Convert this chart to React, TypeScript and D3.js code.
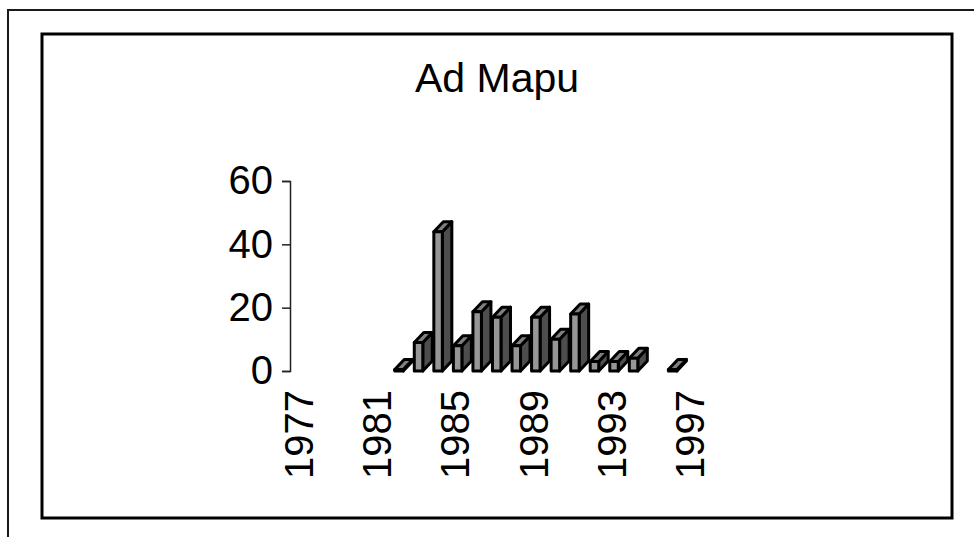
import { useEffect, useRef } from 'react';
import * as d3 from 'd3';

const TITLE = 'Ad Mapu';
const years = d3.range(1977, 1998).map(String);
const labelYears = ['1977', '1981', '1985', '1989', '1993', '1997'];
const barYears = ['1982', '1983', '1984', '1985', '1986', '1987', '1988', '1989', '1990', '1991', '1992', '1993', '1994', '1996'];
const barValues = [0.5, 9, 44, 8, 18.7, 17, 8, 17, 10, 18, 3, 3, 4, 0.5];
const yTicks = [0, 20, 40, 60];

const FONT = '"Liberation Sans", Arial, sans-serif';

export default function App() {
  const svgRef = useRef<SVGSVGElement>(null);

  useEffect(() => {
    const svg = d3.select(svgRef.current);
    svg.selectAll('*').remove();

    // outer page frame has no right or bottom edge
    svg.append('path')
      .attr('d', 'M8,537V10H974')
      .attr('fill', 'none')
      .attr('stroke', '#1a1a1a')
      .attr('stroke-width', 2);

    svg.append('rect')
      .attr('x', 42).attr('y', 34)
      .attr('width', 910).attr('height', 484)
      .attr('fill', '#fff')
      .attr('stroke', '#000')
      .attr('stroke-width', 3);

    svg.append('text')
      .attr('x', 497).attr('y', 92)
      .attr('text-anchor', 'middle')
      .style('font-family', FONT)
      .style('font-size', '41px')
      .text(TITLE);

    const x = d3.scaleBand().domain(years).range([290, 700.5]);
    const y = d3.scaleLinear().domain([0, 60]).range([371, 181]);

    const yAxis = svg.append('g')
      .attr('transform', 'translate(290,0)')
      .call(d3.axisLeft(y).tickValues(yTicks).tickSize(8).tickSizeOuter(8).tickPadding(9));
    yAxis.select('.domain').attr('stroke', '#222').attr('stroke-width', 1.5);
    yAxis.selectAll('line').attr('stroke', '#222').attr('stroke-width', 1.5);
    yAxis.selectAll('text')
      .style('font-family', FONT)
      .style('font-size', '40px')
      .attr('fill', '#000');

    // year labels read upward, every fourth year
    svg.append('g').selectAll('text')
      .data(labelYears)
      .join('text')
      .attr('transform', d => `translate(${x(d)! + x.bandwidth() / 2 + 13.2},390) rotate(-90)`)
      .attr('text-anchor', 'end')
      .style('font-family', FONT)
      .style('font-size', '40px')
      .text(d => d);

    // pseudo 3D columns: side, top, then front face
    const barW = 8.5;
    const dx = 9.5;
    const dy = 10;
    const inset = 7;
    const bars = svg.append('g')
      .attr('stroke', '#000')
      .attr('stroke-width', 3)
      .attr('stroke-linejoin', 'round');

    barYears.forEach((yr, i) => {
      const x0 = x(yr)! + inset;
      const x1 = x0 + barW;
      const yTop = y(barValues[i]);
      const yBase = y(0);
      bars.append('path')
        .attr('fill', '#4d4d4d')
        .attr('d', `M${x1},${yTop}L${x1 + dx},${yTop - dy}V${yBase - dy}L${x1},${yBase}Z`);
      bars.append('path')
        .attr('fill', '#808080')
        .attr('d', `M${x0},${yTop}L${x0 + dx},${yTop - dy}H${x1 + dx}L${x1},${yTop}Z`);
      bars.append('rect')
        .attr('fill', '#969696')
        .attr('x', x0).attr('y', yTop)
        .attr('width', barW).attr('height', yBase - yTop);
    });
  }, []);

  return (
    <svg
      ref={svgRef}
      width={974}
      height={537}
      style={{ position: 'absolute', left: 0, top: 0, background: '#fff' }}
    />
  );
}
